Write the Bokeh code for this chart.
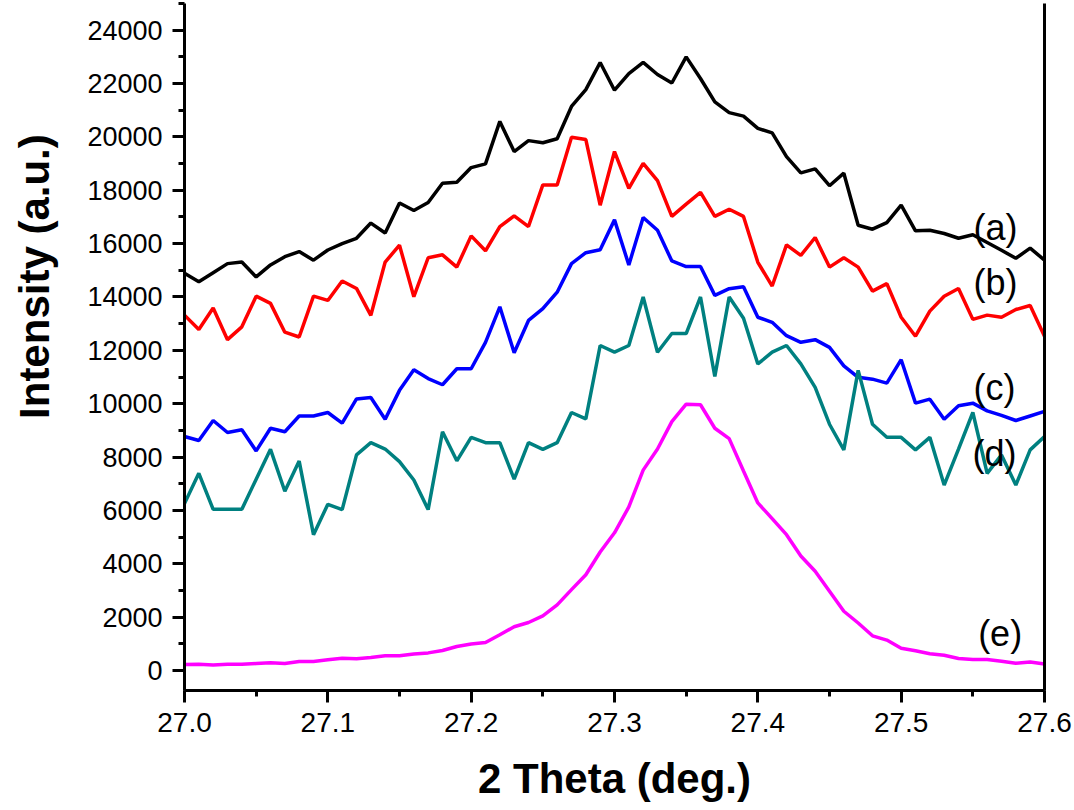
import numpy as np
from bokeh.plotting import figure
from bokeh.layouts import row
from bokeh.models import Range1d, SingleIntervalTicker, LinearAxis, PrintfTickFormatter, FixedTicker
from bokeh.core.properties import value
from bokeh.embed import file_html
from bokeh.resources import INLINE

# sampling grid of the scan (27.00 ... 27.60 deg, step 0.01)
two_theta = np.round(np.linspace(27.0, 27.6, 61), 2)

curve_a = [14890, 14570, 14910, 15250, 15310, 14750, 15200, 15510, 15700, 15380, 15760,
           16000, 16200, 16770, 16400, 17520, 17240, 17540, 18260, 18300, 18850,
           18990, 20580, 19450, 19860, 19780, 19930, 21140, 21770, 22790, 21750,
           22370, 22790, 22340, 22020, 23000, 22190, 21310, 20910, 20780, 20320,
           20150, 19260, 18650, 18800, 18170, 18640, 16690, 16540, 16790, 17440,
           16480, 16500, 16380, 16200, 16330, 16040, 15750, 15450, 15830, 15380]
curve_b = [13320, 12780, 13590, 12400, 12880, 14030, 13760, 12680, 12500, 14030, 13870,
           14600, 14320, 13310, 15310, 15940, 14010, 15470, 15580, 15120, 16290,
           15730, 16640, 17040, 16640, 18200, 18200, 19990, 19900, 17440, 19450,
           18070, 19010, 18360, 17020, 17480, 17920, 17020, 17290, 17020, 15300,
           14410, 15950, 15560, 16230, 15120, 15470, 15120, 14220, 14500, 13240,
           12530, 13470, 14030, 14320, 13160, 13320, 13240, 13530, 13680, 12530]
curve_c = [8770, 8620, 9370, 8920, 9020, 8230, 9080, 8950, 9540, 9540, 9670,
           9270, 10180, 10230, 9420, 10500, 11270, 10940, 10710, 11310, 11310,
           12300, 13630, 11910, 13120, 13560, 14180, 15250, 15660, 15770, 16890,
           15200, 16980, 16500, 15350, 15140, 15140, 14060, 14310, 14380, 13240,
           13050, 12550, 12300, 12400, 12110, 11420, 10990, 10920, 10770, 11650,
           10020, 10170, 9420, 9920, 10020, 9730, 9560, 9370, 9540, 9710]
curve_d = [6260, 7390, 6040, 6040, 6040, 7170, 8290, 6720, 7850, 5090, 6230,
           6030, 8080, 8540, 8300, 7830, 7140, 6030, 8950, 7860, 8740,
           8540, 8540, 7170, 8540, 8290, 8540, 9670, 9430, 12180, 11930,
           12180, 14000, 11930, 12630, 12630, 14000, 11020, 14000, 13200, 11490,
           11930, 12180, 11490, 10610, 9230, 8270, 11250, 9230, 8740, 8740,
           8270, 8740, 6950, 8300, 9670, 7390, 8080, 6950, 8270, 8770]
curve_e = [220, 230, 210, 230, 230, 260, 290, 260, 340, 340, 400,
           460, 440, 490, 550, 550, 620, 660, 750, 900, 990,
           1050, 1340, 1640, 1800, 2050, 2460, 3030, 3590, 4440, 5160,
           6130, 7510, 8300, 9330, 9980, 9960, 9080, 8690, 7480, 6280,
           5690, 5090, 4290, 3720, 2970, 2220, 1780, 1300, 1140, 830,
           740, 630, 570, 450, 410, 410, 350, 270, 320, 240]

series = [curve_a, curve_b, curve_c, curve_d, curve_e]
colors = ["#000000", "#FF0000", "#0000FF", "#008080", "#FF00FF"]
labels = ["(a)", "(b)", "(c)", "(d)", "(e)"]
x_title = "2 Theta (deg.)"
y_title = "Intensity (a.u.)"

FONT = "Liberation Sans"
TITLE_W = 60

p = figure(width=1074 - TITLE_W, height=810,
           x_range=Range1d(27.0, 27.6), y_range=Range1d(-750, 25000),
           output_backend="svg", toolbar_location=None,
           min_border_left=184 - TITLE_W, min_border_right=30,
           min_border_top=3, min_border_bottom=120)
p.xgrid.visible = False
p.ygrid.visible = False
p.outline_line_color = None
p.background_fill_color = "white"
p.border_fill_color = "white"

for ys, c in zip(series, colors):
    p.line(two_theta, ys, line_color=c, line_width=3.5)

# curve labels
lab_x = [27.5505, 27.5505, 27.5505, 27.5497, 27.5537]
lab_y = [16590, 14530, 10590, 8120, 1405]
for lx, ly, t in zip(lab_x, lab_y, labels):
    p.text(x=[lx], y=[ly], text=[t], text_font=value(FONT), text_font_size="36px",
           text_color="black", text_baseline="middle", text_align="left")

xa = p.xaxis[0]
ya = p.yaxis[0]
xa.ticker = SingleIntervalTicker(interval=0.1, num_minor_ticks=2)
ya.ticker = SingleIntervalTicker(interval=2000, num_minor_ticks=2)
xa.formatter = PrintfTickFormatter(format="%.1f")
ya.formatter = PrintfTickFormatter(format="%d")

for ax in (xa, ya):
    ax.axis_line_width = 3
    ax.axis_line_color = "black"
    ax.major_tick_line_width = 3
    ax.minor_tick_line_width = 3
    ax.major_tick_out = 12
    ax.major_tick_in = 0
    ax.minor_tick_out = 6
    ax.minor_tick_in = 0
    ax.major_label_text_font = FONT
    ax.major_label_text_color = "black"

xa.major_label_text_font_size = "28px"
ya.major_label_text_font_size = "27px"
xa.major_label_standoff = 10
ya.major_label_standoff = 10

xa.axis_label = x_title
xa.axis_label_text_font = FONT
xa.axis_label_text_font_style = "bold"
xa.axis_label_text_font_size = "42px"
xa.axis_label_text_color = "black"
xa.axis_label_standoff = 20

right = LinearAxis(ticker=FixedTicker(ticks=[]), axis_line_width=3, axis_line_color="black",
                   major_tick_out=0, major_tick_in=0, minor_tick_out=0, minor_tick_in=0,
                   major_label_text_color=None)
p.add_layout(right, "right")

# narrow strip on the left carrying the rotated y title
t = figure(width=TITLE_W, height=810, x_range=Range1d(0, TITLE_W), y_range=Range1d(0, 810),
           output_backend="svg", toolbar_location=None, min_border=0)
t.axis.visible = False
t.grid.visible = False
t.outline_line_color = None
t.background_fill_color = "white"
t.border_fill_color = "white"
t.text(x=[34], y=[810 - 322], text=[y_title], text_font=value(FONT), text_font_size="42px",
       text_font_style="bold", text_color="black", angle=np.pi / 2,
       text_align="center", text_baseline="middle")

layout = row(t, p, spacing=0)

open("out.html", "w").write(file_html(layout, INLINE))
